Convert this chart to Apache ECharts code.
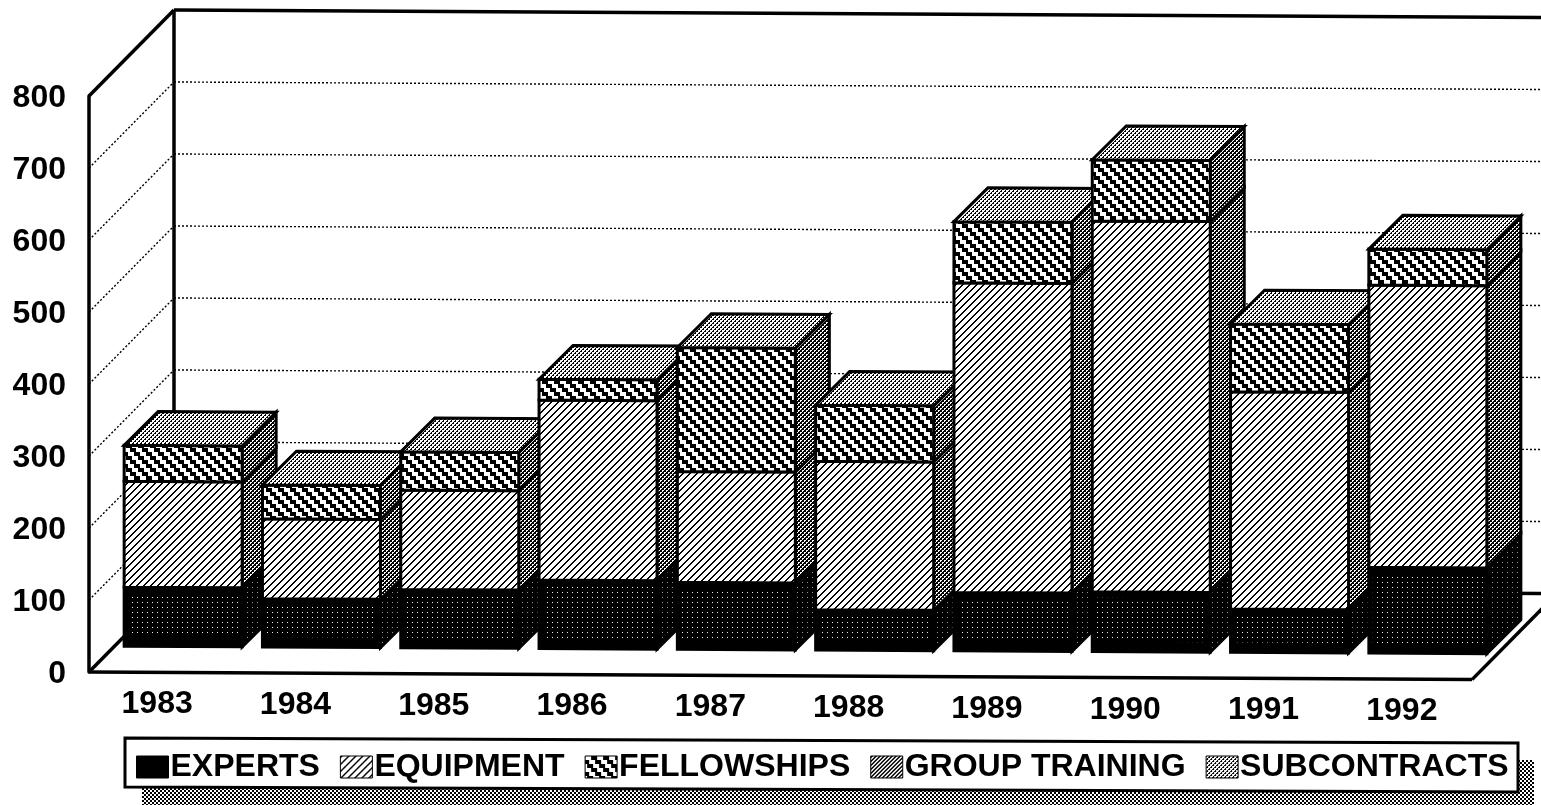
<!DOCTYPE html>
<html><head><meta charset="utf-8">
<style>html,body{margin:0;padding:0;background:#fff}#c{width:1541px;height:805px}</style>
<script src="https://cdn.jsdelivr.net/npm/echarts@6/dist/echarts.min.js"></script>
</head><body><div id="c"></div>
<script>
const categories = ['1983','1984','1985','1986','1987','1988','1989','1990','1991','1992'];
const experts = [82,67,81,95,93,56,81,83,60,119];
const equipment = [147,111,138,250,154,206,430,515,302,392];
const fellowships = [50,47,53,29,172,78,85,85,94,50];
const groupTraining = [0,0,0,0,0,0,0,0,0,0];
const subcontracts = [0,0,0,0,0,0,0,0,0,0];
const yTicks = [0,100,200,300,400,500,600,700,800];
const seriesNames = ['EXPERTS','EQUIPMENT','FELLOWSHIPS','GROUP TRAINING','SUBCONTRACTS'];
const seriesValues = [experts,equipment,fellowships,groupTraining,subcontracts];

const FONT = '"Liberation Sans", Arial, sans-serif';
const SLOPE = 0.0055, GRID_L = 89;
const BACK_DX = 85, BACK_DY = -86.5;
const BAR_SHIFT = 25, BAR_LIFT = 26, BAR_W = 118, DEPTH = 34;

function tile(w, h, fn) {
  const c = document.createElement('canvas'); c.width = w; c.height = h;
  const g = c.getContext('2d');
  for (let y = 0; y < h; y++) for (let x = 0; x < w; x++) {
    g.fillStyle = fn(x, y); g.fillRect(x, y, 1, 1);
  }
  return { image: c, repeat: 'repeat' };
}
const K = '#000', W = '#fff';
const pDotsFront = tile(5, 5, (x, y) => (x === 2 && y === 2) ? '#eee' : K);
const pDotsSide = tile(5, 5, (x, y) => (x === 2 && y === 2) ? '#999' : K);
const pDiag = tile(7, 7, (x, y) => ((x + y) % 7 < 2) ? K : W);
const stairShift = [0,0,0,0,4,4,4,4,8,8,8,8];
const pStair = tile(12, 12, (x, y) => ((x - stairShift[y] + 24) % 12 < 6) ? W : K);
const sideCells = ['0,0','1,0','0,1','2,2','3,2','2,3'];
const pSide = tile(4, 4, (x, y) => sideCells.includes(x + ',' + y) ? W : K);
const pChecker = tile(4, 4, (x, y) => ((x < 2) === (y < 2)) ? W : K);
const pTop = tile(4, 4, (x, y) => (((x < 2) === (y < 2)) || (x === 2 && y === 0) || (x === 0 && y === 2)) ? W : K);
const pGroup = tile(4, 4, (x, y) => ((x + y) % 4 < 2) ? K : W);
const frontFill = [pDotsFront, pDiag, pStair, pGroup, pTop];
const sideFill = [pDotsSide, pSide, pSide, pSide, pSide];
const legendFill = [K, pDiag, pStair, pGroup, pTop];

function sk(x, y) { return [x, y + (x - GRID_L) * SLOPE]; }

function poly(pts, fill, z2, lw) {
  return { type: 'polygon', z2, shape: { points: pts.map(p => sk(p[0], p[1])) },
    style: { fill, stroke: K, lineWidth: lw === undefined ? 3 : lw, lineJoin: 'miter' } };
}

function barRender(sIdx) {
  return function (params, api) {
    const i = api.value(0), base = api.value(1), val = api.value(2);
    const c0 = api.coord([i, base]), c1 = api.coord([i, base + val]);
    const cx = c0[0] + BAR_SHIFT;
    const l = cx - BAR_W / 2, r = cx + BAR_W / 2;
    const yb = c0[1] - BAR_LIFT, yt = c1[1] - BAR_LIFT;
    const kids = [];
    const zb = (i + 1) * 100;
    if (val > 0) {
      kids.push(poly([[r, yb], [r + DEPTH, yb - DEPTH], [r + DEPTH, yt - DEPTH], [r, yt]],
        sideFill[sIdx], zb + sIdx));
      kids.push(poly([[l, yb], [r, yb], [r, yt], [l, yt]],
        sIdx === 0 ? K : frontFill[sIdx], zb + 10 + sIdx));
      if (sIdx === 0) {
        kids.push(poly([[l + 4, yb - 10], [r - 4, yb - 10], [r - 4, yt + 6], [l + 4, yt + 6]],
          pDotsFront, zb + 15, 0));
      }
    }
    if (sIdx === seriesNames.length - 1) {
      kids.push(poly([[l, yb], [r, yb], [r + DEPTH, yb - DEPTH], [l + DEPTH, yb - DEPTH]],
        pTop, zb + 20));
    }
    return { type: 'group', children: kids };
  };
}

let running = categories.map(() => 0);
const barSeries = seriesNames.map((name, s) => {
  const data = categories.map((c, i) => {
    const d = [i, running[i], seriesValues[s][i]];
    running[i] += seriesValues[s][i];
    return d;
  });
  return { name, type: 'custom', coordinateSystem: 'cartesian2d', clip: false, z: 3,
    itemStyle: { color: legendFill[s] }, renderItem: barRender(s),
    encode: { x: 0, y: [1, 2] }, data };
});

const wallSeries = {
  type: 'custom', coordinateSystem: 'cartesian2d', clip: false, z: 1, silent: true,
  data: yTicks.map(v => [0, v]),
  renderItem(params, api) {
    const v = api.value(1), p = api.coord([0, v]);
    const band = api.size([1, 0])[0];
    const x0 = GRID_L, x1 = GRID_L + band * categories.length;
    const line = (a, b, lw, dash) => {
      const A = sk(a[0], a[1]), B = sk(b[0], b[1]);
      return { type: 'line', shape: { x1: A[0], y1: A[1], x2: B[0], y2: B[1] },
        style: { stroke: K, lineWidth: lw, lineDash: dash || null } };
    };
    const y = p[1], by = y + BACK_DY, bx = x0 + BACK_DX;
    const kids = [];
    if (v === yTicks[0]) {
      kids.push(line([x0, y], [bx, by], 3.5));
      kids.push(line([x0, y], [x1, y], 3.5));
      kids.push(line([x1, y], [x1 + BACK_DX, by], 3.5));
      kids.push(line([bx, by], [x1 + BACK_DX, by], 3.5));
    } else if (v === yTicks[yTicks.length - 1]) {
      kids.push(line([x0, y], [bx, by], 3.5));
      kids.push(line([bx, by], [x1 + BACK_DX, by], 3.5));
      kids.push(line([bx, by], [bx, by + (api.coord([0, yTicks[0]])[1] - y)], 3.5));
    } else {
      kids.push(line([x0, y], [bx, by], 1.4, [2, 2]));
      kids.push(line([bx, by], [x1 + BACK_DX, by], 1.4, [2, 2]));
    }
    return { type: 'group', children: kids };
  }
};

const labelSeries = {
  type: 'custom', coordinateSystem: 'cartesian2d', clip: false, z: 4, silent: true,
  data: categories.map((c, i) => [i, 0]),
  renderItem(params, api) {
    const i = api.value(0), p = api.coord([i, 0]);
    const q = sk(p[0] - 1, p[1] + 32);
    return { type: 'text', style: { x: q[0], y: q[1], text: categories[i], fill: K,
      font: 'bold 32px ' + FONT, align: 'center', verticalAlign: 'middle' } };
  }
};

const chart = echarts.init(document.getElementById('c'), null, { renderer: 'canvas', width: 1541, height: 805 });
chart.setOption({
  animation: false,
  backgroundColor: '#fff',
  grid: { left: GRID_L, top: 96, width: 1383, height: 576 },
  xAxis: { type: 'category', data: categories, axisLine: { show: false }, axisTick: { show: false }, axisLabel: { show: false }, splitLine: { show: false } },
  yAxis: { type: 'value', min: 0, max: 800, interval: 100,
    axisLine: { show: true, lineStyle: { color: K, width: 3.5 } }, axisTick: { show: false },
    splitLine: { show: false },
    axisLabel: { color: K, fontFamily: FONT, fontWeight: 'bold', fontSize: 32, margin: 23,
      formatter: '{a|{value}}', rich: { a: { color: K, fontFamily: FONT, fontWeight: 'bold', fontSize: 32, padding: [5, 0, 0, 0] } } } },
  legend: { left: 136, top: 751, padding: 0, itemWidth: 32, itemHeight: 22, itemGap: 20, selectedMode: false,
    textStyle: { color: K, fontFamily: FONT, fontWeight: 'bold', fontSize: 32, padding: [0, 0, 0, -3] },
    data: seriesNames.map((n, s) => ({ name: n, icon: 'rect',
      itemStyle: { color: legendFill[s], borderColor: K, borderWidth: 1 } })) },
  graphic: [
    { type: 'polygon', z: -2, shape: { points: [[142, 760], [1534, 760], [1534, 805], [142, 805]] }, style: { fill: pChecker } },
    { type: 'polygon', z: -1, shape: { points: [[125, 738], [1518, 743], [1518, 792], [125, 787]] }, style: { fill: W, stroke: K, lineWidth: 3 } }
  ],
  series: [wallSeries].concat(barSeries, [labelSeries])
});
</script></body></html>
